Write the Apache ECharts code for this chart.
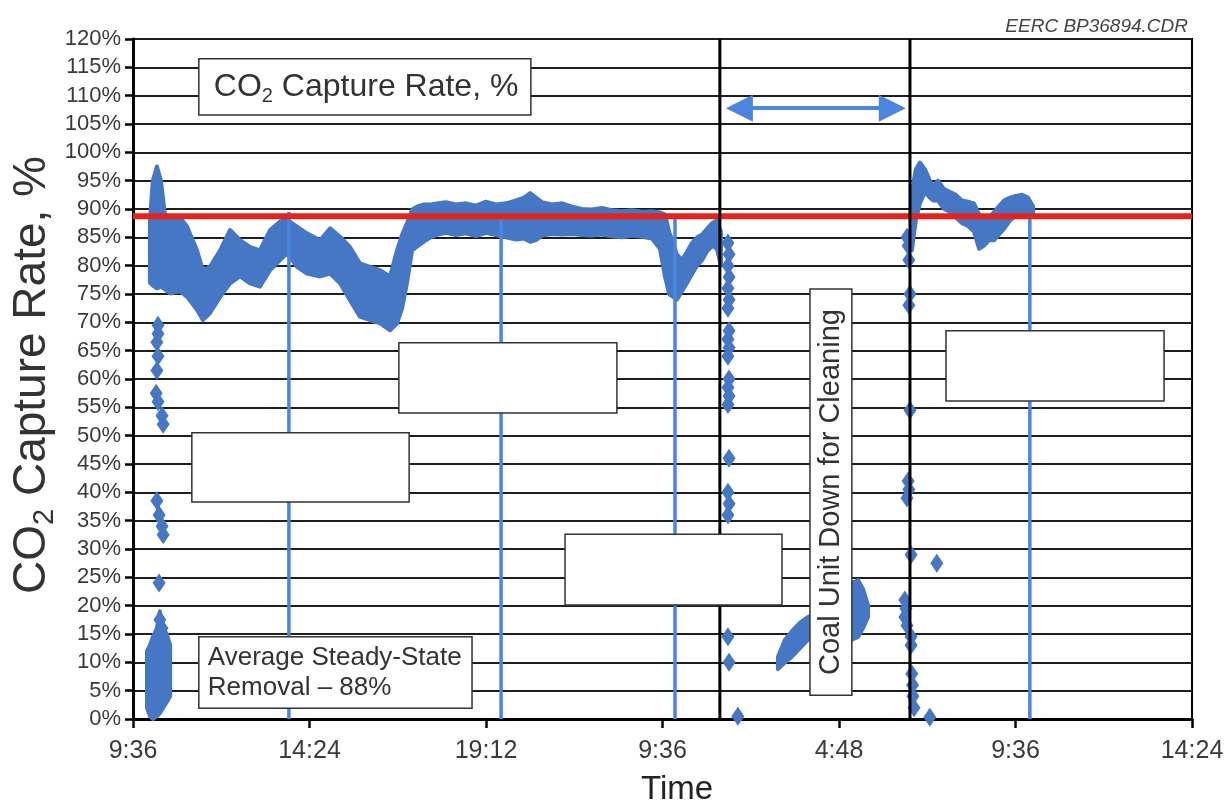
<!DOCTYPE html>
<html>
<head>
<meta charset="utf-8">
<title>CO2 Capture Rate</title>
<script src="https://cdn.jsdelivr.net/npm/echarts@6/dist/echarts.min.js"></script>
<style>
  html, body { margin: 0; padding: 0; background: #fff; }
  #chart { width: 1228px; height: 809px; }
</style>
</head>
<body>
<div id="chart"></div>
<script>
// x values are hours after the first 9:36 tick, one tick every 4.8 h
const tickLabels = ['9:36', '14:24', '19:12', '9:36', '4:48', '9:36', '14:24'];
const hourStep = 4.8;
const hourMax = 28.8;

// first steady run, band of the plotted points (upper / lower edge, %)
const run1Hours = [0.46, 0.54, 0.65, 0.76, 0.87, 1.01, 1.28, 1.47, 1.74, 1.90, 2.09, 2.37, 2.64, 2.91, 3.18,
  3.45, 3.73, 4.00, 4.19, 4.46, 4.73, 5.09, 5.36, 5.63, 5.90, 6.17, 6.45, 6.72, 6.99, 7.18, 7.32, 7.45, 7.59,
  7.75, 7.92, 8.10, 8.30, 8.51, 8.78, 9.06, 9.33, 9.60, 9.87, 10.14, 10.42, 10.63, 10.80, 10.96, 11.12, 11.39,
  11.67, 11.94, 12.21, 12.48, 12.75, 13.03, 13.30, 13.57, 13.84, 14.11, 14.33, 14.47, 14.58, 14.69, 14.79,
  14.93, 15.07, 15.20, 15.34, 15.48, 15.61, 15.75, 15.88, 15.99];
const run1Upper = [88, 95, 97.5, 95, 89, 88.6, 88.5, 86.9, 82.7, 79.2, 79.8, 82.7, 86.3, 84.5, 83.3,
  82.7, 86.3, 87.8, 88.1, 86.9, 85.7, 84.5, 86.6, 85.1, 83.3, 80.4, 79.8, 79.2, 78.1, 82.7, 85.5, 87.5, 89.9,
  90.5, 90.8, 90.8, 91, 91.2, 90.8, 91, 90.6, 91.3, 90.8, 91, 91.5, 92, 92.8, 92, 91.2, 90.8,
  91, 90.4, 90, 89.9, 90.2, 89.8, 89.6, 89.8, 89.5, 89.6, 89.4, 89, 86, 84, 82,
  81, 82.5, 84, 85, 85.5, 86.5, 87.5, 88, 86];
const run1Lower = [77, 76.5, 76, 76.3, 75.8, 75.1, 75.5, 74.5, 72.2, 70.4, 71.6, 74.5, 76.9, 78.1, 76.9,
  76.3, 79.2, 81, 82.2, 79.8, 78.6, 78.1, 78.6, 76.9, 73.9, 71, 70.4, 69.8, 68.6, 69.8, 72.5, 76.9, 82.7,
  83.5, 84.3, 85, 85.5, 85.8, 85.4, 85.7, 85.2, 85.8, 85.4, 85, 84.6, 84.8, 84.2, 84.5, 85.3, 85.6,
  85.5, 85.6, 85.4, 85.3, 85.5, 85.2, 85, 85.3, 85.1, 84.8, 83, 78, 75, 74.5, 74,
  75.5, 77, 78.5, 80, 81, 82.5, 83.5, 83, 80];

// second run after the coal unit came back
const run2Hours = [21.18, 21.29, 21.40, 21.54, 21.67, 21.76, 21.89, 22.06, 22.22, 22.38, 22.54, 22.71,
  22.87, 23.01, 23.14, 23.28, 23.42, 23.55, 23.69, 23.85, 24.01, 24.18, 24.34, 24.48];
const run2Upper = [93, 97, 98.2, 97, 95, 94, 95, 93.5, 93, 92.5, 91.5, 91.3,
  91, 89, 88, 88.5, 89.5, 90.5, 91.5, 92, 92.3, 92.5, 92, 90.5];
const run2Lower = [82.7, 88, 91, 93, 92, 91.5, 91.5, 90, 89.5, 88.5, 87.5, 87,
  86, 83, 83.5, 84.5, 84.5, 85.5, 86.5, 88, 88.8, 89, 89, 89];

// low readings while the unit was down
const rampHours = [17.54, 17.73, 17.92, 18.14, 18.36, 18.95, 19.55, 19.72, 19.85, 19.99];
const rampUpper = [11, 14, 15.5, 17, 18, 20, 24, 24.5, 23, 20];
const rampLower = [8.8, 10, 11, 12.5, 14, 15, 14, 14.5, 16, 18];

// start-up cluster near 0 %
const startHours = [0.38, 0.46, 0.54, 0.65, 0.73, 0.82, 0.92, 1.01];
const startUpper = [12, 13, 14.5, 16, 19, 16, 15, 13];
const startLower = [2, 0.5, 0, 0.5, 1, 2, 3, 4];

// isolated readings [hour, %]
const loosePoints = [
  [0.68, 69.5], [0.68, 68], [0.65, 66.5], [0.68, 64], [0.65, 61.5], [0.63, 57.5], [0.68, 56], [0.79, 53.5],
  [0.82, 52], [0.65, 38.5], [0.71, 36], [0.79, 34], [0.82, 32.5], [0.71, 24], [0.73, 17.5], [0.79, 16],
  [16.18, 84], [16.21, 82], [16.18, 80], [16.21, 78], [16.18, 76], [16.21, 74], [16.18, 72.5], [16.21, 68.5],
  [16.18, 67], [16.21, 65.5], [16.18, 64], [16.21, 60], [16.18, 58.5], [16.21, 57], [16.18, 55.5],
  [16.21, 46], [16.18, 40], [16.21, 38], [16.18, 36], [16.18, 14.5], [16.21, 10], [16.45, 0.5],
  [21.05, 85], [21.08, 83.5], [21.1, 81], [21.13, 75], [21.1, 73], [21.13, 54.5], [21.08, 42], [21.1, 40.5],
  [21.05, 39], [21.16, 29], [21.86, 27.5], [20.99, 21], [21.02, 19.5], [20.99, 18], [21.05, 16.5],
  [21.16, 14.5], [21.16, 13], [21.18, 8], [21.2, 6], [21.21, 4], [21.24, 2], [21.67, 0.3]
];

const leaderHours = [4.24, 10.01, 14.74, 24.39];
const leaderTops = [89.5, 88.5, 88.6, 89.3];
const averageRemoval = 88.7;
const shutdownHours = [15.96, 21.13];
const arrowHours = [16.49, 20.65];
const arrowLevel = 107.8;

// annotation boxes, in axis units
const layout = {
  title: { x: [1.79, 10.82], y: [116.5, 106.6] },
  average: { x: [1.79, 9.22], y: [14.5, 1.9] },
  coal: { x: [18.41, 19.55], y: [75.9, 4.2] },
  blanks: [
    { x: [1.60, 7.51], y: [50.5, 38.3] },
    { x: [7.23, 13.16], y: [66.4, 54.0] },
    { x: [11.75, 17.65], y: [32.6, 20.1] },
    { x: [22.11, 28.04], y: [68.5, 56.1] }
  ]
};

const FONT = '"Liberation Sans", Arial, sans-serif';
const BAND = '#4577c4';
const LEADER = '#4a86e0';
const TEXT = '#333';

const chart = echarts.init(document.getElementById('chart'));

function envelope(hours, upper, lower) {
  return {
    type: 'custom',
    coordinateSystem: 'cartesian2d',
    silent: true,
    z: 3,
    data: [[hours[0], upper[0]]],
    renderItem: (params, api) => {
      const pts = hours.map((h, i) => api.coord([h, upper[i]]));
      for (let i = hours.length - 1; i >= 0; i--) pts.push(api.coord([hours[i], lower[i]]));
      return {
        type: 'polygon',
        shape: { points: pts },
        style: { fill: BAND, stroke: BAND, lineWidth: 4, lineJoin: 'round' }
      };
    }
  };
}

function verticals(hours, tops, color, width, z) {
  return {
    type: 'custom',
    coordinateSystem: 'cartesian2d',
    silent: true,
    z: z,
    data: hours.map((h, i) => [h, tops[i]]),
    renderItem: (params, api) => {
      const top = api.coord([api.value(0), api.value(1)]);
      const bottom = api.coord([api.value(0), 0]);
      return {
        type: 'line',
        shape: { x1: top[0], y1: top[1], x2: bottom[0], y2: bottom[1] },
        style: { stroke: color, lineWidth: width }
      };
    }
  };
}

const option = {
  animation: false,
  backgroundColor: '#fff',
  grid: { left: 133, right: 36, top: 39, bottom: 90, show: true, borderColor: '#000', borderWidth: 2 },
  xAxis: {
    type: 'value',
    min: 0,
    max: hourMax,
    interval: hourStep,
    axisLine: { lineStyle: { color: '#000', width: 3 } },
    axisTick: { show: true, length: 9, lineStyle: { color: '#000', width: 2.5 } },
    axisLabel: {
      margin: 20,
      fontFamily: FONT,
      fontSize: 25,
      color: '#3a3a3a',
      formatter: (v) => tickLabels[Math.round(v / hourStep)]
    },
    splitLine: { show: false }
  },
  yAxis: {
    type: 'value',
    min: 0,
    max: 120,
    interval: 5,
    axisLine: { lineStyle: { color: '#000', width: 3 } },
    axisTick: { show: true, length: 8, lineStyle: { color: '#000', width: 2.5 } },
    axisLabel: { margin: 12, fontFamily: FONT, fontSize: 22, color: '#3a3a3a', formatter: '{value}%' },
    splitLine: { show: true, lineStyle: { color: '#1e1e1e', width: 2 } }
  },
  series: [
    envelope(startHours, startUpper, startLower),
    envelope(run1Hours, run1Upper, run1Lower),
    envelope(rampHours, rampUpper, rampLower),
    envelope(run2Hours, run2Upper, run2Lower),
    {
      type: 'scatter',
      silent: true,
      z: 3,
      symbol: 'diamond',
      symbolSize: [13, 19],
      itemStyle: { color: BAND, opacity: 1 },
      data: loosePoints
    },
    verticals(leaderHours, leaderTops, LEADER, 3.5, 4),
    {
      type: 'line',
      silent: true,
      z: 5,
      symbol: 'none',
      lineStyle: { color: '#e3231c', width: 6 },
      data: [[0, averageRemoval], [hourMax, averageRemoval]],
      markLine: {
        silent: true,
        symbol: ['triangle', 'triangle'],
        symbolSize: [27, 27],
        label: { show: false },
        lineStyle: { color: LEADER, width: 4, type: 'solid' },
        itemStyle: { color: LEADER },
        data: [[{ coord: [arrowHours[0], arrowLevel] }, { coord: [arrowHours[1], arrowLevel] }]]
      }
    },
    verticals(shutdownHours, [120, 120], '#000', 3, 6)
  ]
};

chart.setOption(option);

// boxes and free text, placed through the grid's own scales
const toPx = (h, v) => chart.convertToPixel({ gridIndex: 0 }, [h, v]);
function rectOf(b) {
  const a = toPx(b.x[0], b.y[0]);
  const c = toPx(b.x[1], b.y[1]);
  return { x: a[0], y: a[1], width: c[0] - a[0], height: c[1] - a[1] };
}
function boxEl(b) {
  return { type: 'rect', z: 100, silent: true, shape: rectOf(b), style: { fill: '#fff', stroke: '#333', lineWidth: 1.5 } };
}

const titleR = rectOf(layout.title);
const avgR = rectOf(layout.average);
const coalR = rectOf(layout.coal);
const subRich = (size) => ({
  a: { fontFamily: FONT, fontSize: size, fill: TEXT, lineHeight: size * 1.2 },
  s: { fontFamily: FONT, fontSize: Math.round(size * 0.62), fill: TEXT, verticalAlign: 'bottom', lineHeight: Math.round(size * 0.7) }
});

const graphics = [
  boxEl(layout.title),
  boxEl(layout.average),
  boxEl(layout.coal),
  ...layout.blanks.map(boxEl),
  {
    type: 'text', z: 101, silent: true,
    x: titleR.x + 15, y: titleR.y + titleR.height / 2,
    style: { text: '{a|CO}{s|2}{a| Capture Rate, %}', rich: subRich(32), align: 'left', verticalAlign: 'middle' }
  },
  {
    type: 'text', z: 101, silent: true,
    x: avgR.x + 9, y: avgR.y + avgR.height / 2,
    style: {
      text: 'Average Steady-State\nRemoval \u2013 88%',
      fontFamily: FONT, fontSize: 26, lineHeight: 30, fill: TEXT, align: 'left', verticalAlign: 'middle'
    }
  },
  {
    type: 'text', z: 101, silent: true,
    x: coalR.x + coalR.width / 2, y: coalR.y + coalR.height / 2,
    rotation: Math.PI / 2,
    style: { text: 'Coal Unit Down for Cleaning', fontFamily: FONT, fontSize: 29, fill: TEXT, align: 'center', verticalAlign: 'middle' }
  },
  {
    type: 'text', z: 101, silent: true,
    x: 32, y: 375, rotation: Math.PI / 2,
    style: { text: '{a|CO}{s|2}{a| Capture Rate, %}', rich: subRich(46), align: 'center', verticalAlign: 'middle' }
  },
  {
    type: 'text', z: 101, silent: true,
    x: 677, y: 790,
    style: { text: 'Time', fontFamily: FONT, fontSize: 33, fill: '#222', align: 'center', verticalAlign: 'middle' }
  },
  {
    type: 'text', z: 101, silent: true,
    x: 1188, y: 27,
    style: { text: 'EERC BP36894.CDR', fontFamily: FONT, fontStyle: 'italic', fontSize: 19, fill: '#444', align: 'right', verticalAlign: 'middle' }
  }
];

chart.setOption({ graphic: graphics });
</script>
</body>
</html>
